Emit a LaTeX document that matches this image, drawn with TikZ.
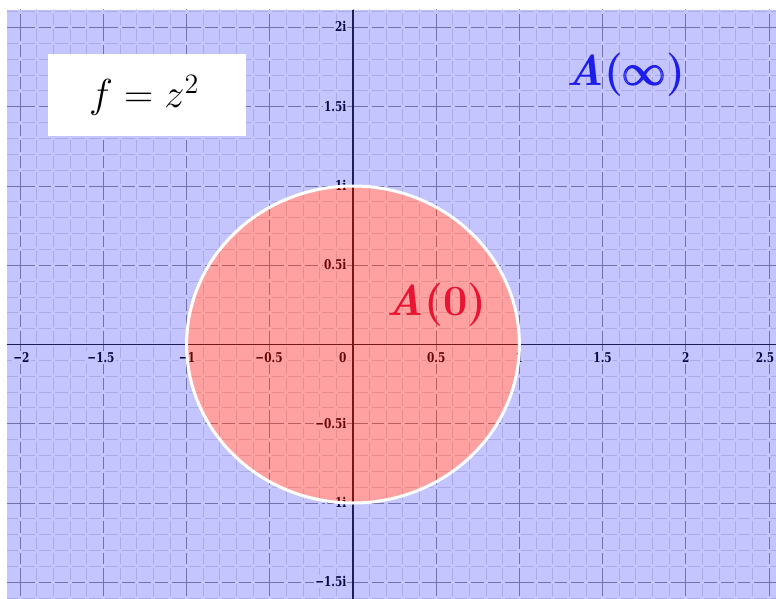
\documentclass[tikz,border=0pt]{standalone}
\usepackage{amsmath}
\usepackage{fontspec}
\newfontfamily\tickfont{DejaVu Serif}
\definecolor{ovblue}{RGB}{0,0,255}
\definecolor{ovred}{RGB}{255,0,0}
\definecolor{ainf}{RGB}{30,30,235}
\definecolor{azero}{RGB}{232,20,50}
\newcommand\myAinf{\textbf{\textit{A}}\textbf{(}$\pmb{\infty}$\textbf{)}}
\newcommand\myAzero{\textbf{\textit{A}}\textbf{(0)}}
\newcommand\myFz{$f = z^2$}
\tikzset{
  minorv/.style={black!13, line width=0.9pt, dash pattern=on 11.85pt off 4pt, dash phase=13.85pt},
  minorh/.style={black!13, line width=0.9pt, dash pattern=on 12.64pt off 4pt, dash phase=14.64pt},
  majorv/.style={black!42, line width=1pt, dash pattern=on 27.7pt off 4pt on 11.85pt off 4pt on 11.85pt off 4pt on 11.85pt off 4pt, dash phase=13.85pt},
  majorh/.style={black!42, line width=1pt, dash pattern=on 29.28pt off 4pt on 12.64pt off 4pt on 12.64pt off 4pt on 12.64pt off 4pt, dash phase=14.64pt},
  axisline/.style={black!85, line width=1.4pt},
  ticklab/.style={fill=white, inner sep=1.2pt, xscale=0.78, text=black!95, font=\tickfont\bfseries\fontsize{13.5}{14}\selectfont},
  bigtext/.style={inner sep=0pt, scale=2.08, font=\fontsize{20.74}{20.74}\selectfont},
}
\begin{document}
\begin{tikzpicture}[x=1pt,y=-1pt]
\useasboundingbox (0,0) rectangle (776,599);
\coordinate (O) at (353,344.5);
\begin{scope}
\clip (7,10) rectangle (776,599);
% grid
\foreach \i in {-25,...,30}{
  \pgfmathsetmacro\px{353+16.64*\i}
  \pgfmathtruncatemacro\m{mod(abs(\i),5)}
  \ifnum\m=0
    \draw[majorv] (\px,-51.75) -- (\px,650);
  \else
    \draw[minorv] (\px,-51.75) -- (\px,650);
  \fi
}
\foreach \j in {-25,...,25}{
  \pgfmathsetmacro\py{344.5-15.85*\j}
  \pgfmathtruncatemacro\m{mod(abs(\j),5)}
  \ifnum\m=0
    \draw[majorh] (-63,\py) -- (820,\py);
  \else
    \draw[minorh] (-63,\py) -- (820,\py);
  \fi
}
% axes
\coordinate (xl) at (7,344.5);
\coordinate (xr) at (776,344.5);
\coordinate (yt) at (353,10);
\coordinate (yb) at (353,599);
\draw[axisline] (xl) -- (xr);
\draw[axisline] (yt) -- (yb);
% tick labels
\foreach \px/\t [count=\k] in {21.5/{−2},101/{−1.5},187/{−1},269/{−0.5},436.2/{0.5},519.4/{1},602.6/{1.5},685.8/{2},765/{2.5}}{
  \node[ticklab, anchor=base] (xlab\k) at (\px,362.5) {\t};
}
\node[ticklab, anchor=base east] (zlab) at (347.5,362.5) {0};
\foreach \v/\t [count=\k] in {2/{2i},1.5/{1.5i},1/{1i},0.5/{0.5i},-0.5/{−0.5i},-1/{−1i},-1.5/{−1.5i}}{
  \pgfmathsetmacro\py{344.5-158.5*\v+4.5}
  \node[ticklab, anchor=base east] (ylab\k) at (347.5,\py) {\t};
}
% overlays
\fill[ovblue, fill opacity=0.23, even odd rule] (7,10) rectangle (776,599) (O) ellipse[x radius=166.4, y radius=158.5];
\fill[ovred, fill opacity=0.37] (O) ellipse[x radius=166.4, y radius=158.5];
\draw[white, line width=3pt] (O) ellipse[x radius=166.4, y radius=158.5];
\end{scope}
% formula box
\node[fill=white, minimum width=198pt, minimum height=82pt, inner sep=0pt] (box) at (147,95) {};
\node[anchor=base, inner sep=0pt, scale=1.95, font=\fontsize{20.74}{20.74}\selectfont] (fz) at (144.2,107.7) {\myFz};
% region labels
\node[bigtext, text=ainf] (Ainf) at (626,75) {\myAinf};
\node[bigtext, text=azero] (Azero) at (436.5,305) {\myAzero};
\end{tikzpicture}
\end{document}
